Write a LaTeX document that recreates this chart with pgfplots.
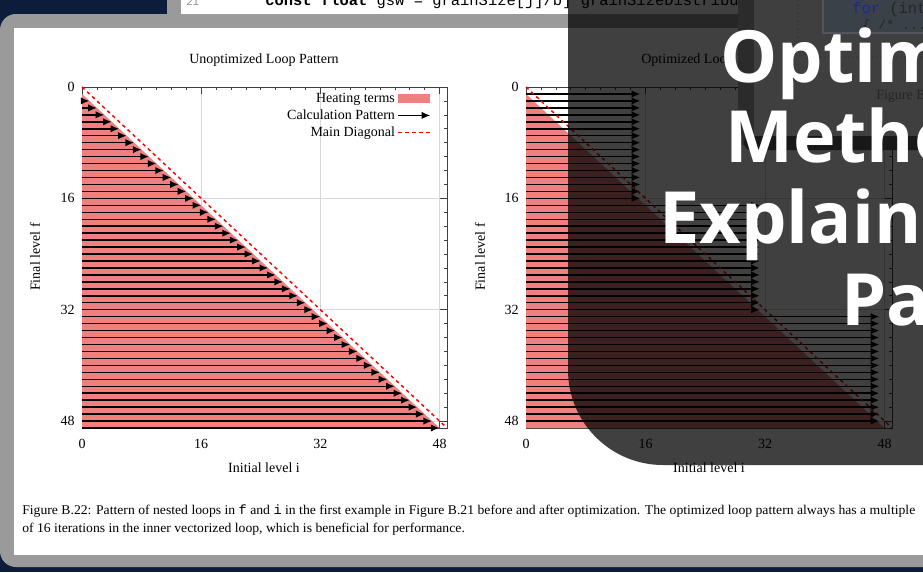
\documentclass[border=0pt]{standalone}
\usepackage{pgfplots}
\pgfplotsset{compat=1.18}
\usepackage{pgfplotstable}
\usetikzlibrary{arrows.meta}
\usepackage{fontspec}
\usepackage{graphicx}
\setmainfont{Liberation Serif}
\setmonofont{Liberation Mono}
\newfontfamily\bigsans{Open Sans}

\definecolor{heat}{RGB}{240,128,128}
\definecolor{navy}{RGB}{12,28,58}
\definecolor{framegray}{RGB}{154,154,154}
\definecolor{gridc}{RGB}{215,215,215}
\definecolor{codebox}{RGB}{58,65,72}
\definecolor{codeboxedge}{RGB}{80,86,92}
\definecolor{codeblue}{RGB}{30,40,150}
\definecolor{bandc}{RGB}{43,43,43}
\definecolor{bandd}{RGB}{24,24,24}
\definecolor{winc}{RGB}{63,63,63}

\pgfplotstableread{
x y u v
0 2 1 0
0 3 2 0
0 4 3 0
0 5 4 0
0 6 5 0
0 7 6 0
0 8 7 0
0 9 8 0
0 10 9 0
0 11 10 0
0 12 11 0
0 13 12 0
0 14 13 0
0 15 14 0
0 16 15 0
0 17 16 0
0 18 17 0
0 19 18 0
0 20 19 0
0 21 20 0
0 22 21 0
0 23 22 0
0 24 23 0
0 25 24 0
0 26 25 0
0 27 26 0
0 28 27 0
0 29 28 0
0 30 29 0
0 31 30 0
0 32 31 0
0 33 32 0
0 34 33 0
0 35 34 0
0 36 35 0
0 37 36 0
0 38 37 0
0 39 38 0
0 40 39 0
0 41 40 0
0 42 41 0
0 43 42 0
0 44 43 0
0 45 44 0
0 46 45 0
0 47 46 0
0 48 47 0
0 49 48 0
}\leftarrows

\pgfplotstableread{
x y u v
0 1 15.3 0
0 2 15.3 0
0 3 15.3 0
0 4 15.3 0
0 5 15.3 0
0 6 15.3 0
0 7 15.3 0
0 8 15.3 0
0 9 15.3 0
0 10 15.3 0
0 11 15.3 0
0 12 15.3 0
0 13 15.3 0
0 14 15.3 0
0 15 15.3 0
0 16 15.3 0
0 17 31.3 0
0 18 31.3 0
0 19 31.3 0
0 20 31.3 0
0 21 31.3 0
0 22 31.3 0
0 23 31.3 0
0 24 31.3 0
0 25 31.3 0
0 26 31.3 0
0 27 31.3 0
0 28 31.3 0
0 29 31.3 0
0 30 31.3 0
0 31 31.3 0
0 32 31.3 0
0 33 47.3 0
0 34 47.3 0
0 35 47.3 0
0 36 47.3 0
0 37 47.3 0
0 38 47.3 0
0 39 47.3 0
0 40 47.3 0
0 41 47.3 0
0 42 47.3 0
0 43 47.3 0
0 44 47.3 0
0 45 47.3 0
0 46 47.3 0
0 47 47.3 0
0 48 47.3 0
}\rightarrows

\pgfplotsset{
  loopaxis/.style={
    scale only axis, height=255.75pt,
    xmin=0, xmax=49, ymin=0, ymax=49, y dir=reverse,
    xtick={0,16,32,48}, ytick={0,16,32,48},
    minor tick num=7,
    tick align=inside,
    major tick length=5pt, minor tick length=2.5pt,
    grid=major, major grid style={draw=gridc, line width=0.5pt},
    axis line style={draw=black!75, line width=0.6pt},
    tick style={draw=black!75, line width=0.5pt},
    ticklabel style={font=\fontsize{10.5}{12}\selectfont},
    xticklabel style={yshift=-5pt},
    yticklabel style={xshift=-2pt},
    /pgf/number format/assume math mode=true,
    clip=false,
    legend style={draw=none, fill=none, at={(0.968,0.999)}, anchor=north east,
      font=\fontsize{10.5}{12}\selectfont, row sep=0pt},
    legend cell align=right,
    legend plot pos=right,
  },
  heatstyle/.style={fill=heat, draw=none,
    legend image code/.code={\fill[heat] (0pt,-3.4pt) rectangle (24pt,3.4pt);}},
  arrowstyle/.style={black, line width=1.1pt, -{Latex[length=6.5pt,width=5.5pt]},
    quiver={u=\thisrow{u}, v=\thisrow{v}},
    legend image code/.code={\draw[black,line width=1.1pt,-{Latex[length=6.5pt,width=5.5pt]}] (0pt,0pt) -- (24pt,0pt);}},
  diagstyle/.style={red, line width=1.1pt, dash pattern=on 2.6pt off 2.6pt,
    legend image code/.code={\draw[red,line width=1.1pt,dash pattern=on 2.6pt off 2.6pt] (0pt,0pt) -- (24pt,0pt);}},
}

\begin{document}
\begin{tikzpicture}
% ---------- background ----------
\begin{scope}[x=0.75pt,y=0.75pt]
  \fill[navy] (0,0) rectangle (923,-572);
  \fill[framegray] (167,0) rectangle (181,-14);
  \fill[white] (181,0) rectangle (738,-14);
  \begin{scope}
    \clip (181,0) rectangle (738,-14);
    \node[anchor=base west, inner sep=0, text=black!45] at (186,-5) {\ttfamily\fontsize{8}{9}\selectfont 21};
    \node[anchor=base west, inner sep=0] at (265,-5) {\ttfamily\fontsize{11.6}{12}\selectfont \textbf{const float} gsw = grainSize[j]/b]*grainSizeDistribut};
  \end{scope}
  \fill[framegray, rounded corners=12pt] (0,-14) rectangle (950,-567);
  \fill[white] (14,-28) rectangle (940,-555);
\end{scope}

% ---------- left axis ----------
\begin{axis}[loopaxis, width=273.75pt, at={(61.5pt,-321pt)}, anchor=south west]
  \addplot[heatstyle] coordinates {(0,1) (48,49) (0,49) (0,1)};
  \addlegendentry{Heating terms}
  \addplot[arrowstyle] table[x=x,y=y] {\leftarrows};
  \addlegendentry{Calculation Pattern}
  \addplot[diagstyle] coordinates {(0,0) (49,49)};
  \addlegendentry{Main Diagonal}
\end{axis}

% ---------- right axis ----------
\begin{axis}[loopaxis, width=274.5pt, at={(394.5pt,-321pt)}, anchor=south west]
  \addplot[heatstyle] coordinates {(0,1) (48,49) (0,49) (0,1)};
  \addlegendentry{Heating terms}
  \addplot[arrowstyle] table[x=x,y=y] {\rightarrows};
  \addlegendentry{Calculation Pattern}
  \addplot[diagstyle] coordinates {(0,0) (49,49)};
  \addlegendentry{Main Diagonal}
\end{axis}

\begin{scope}[x=0.75pt,y=0.75pt]
  % titles and labels
  \node[inner sep=0] at (264,-60) {\fontsize{10.5}{12}\selectfont Unoptimized Loop Pattern};
  \node[inner sep=0] at (709,-60) {\fontsize{10.5}{12}\selectfont Optimized Loop Pattern};
  \node[inner sep=0, rotate=90] at (35,-257) {\fontsize{10.5}{12}\selectfont Final level f};
  \node[inner sep=0, rotate=90] at (480,-257) {\fontsize{10.5}{12}\selectfont Final level f};
  \node[inner sep=0] at (264,-468) {\fontsize{10.5}{12}\selectfont Initial level i};
  \node[inner sep=0] at (709,-468) {\fontsize{10.5}{12}\selectfont Initial level i};
  % caption
  \node[anchor=base west, inner sep=0] at (22,-514) {\resizebox{669.75pt}{\height}{\fontsize{10}{13.5}\selectfont\begin{tabular}[t]{@{}l@{}}Figure B.22: Pattern of nested loops in \texttt{f} and \texttt{i} in the first example in Figure B.21 before and after optimization. The optimized loop pattern always has a multiple\\ of 16 iterations in the inner vectorized loop, which is beneficial for performance.\end{tabular}}};

  % ---------- dark overlay ----------
  \fill[black, opacity=0.75] (568,5) -- (568,-370) arc[start angle=180, end angle=270, radius=71.25pt] -- (950,-465) -- (950,5) -- cycle;
  \fill[winc] (754,5) rectangle (960,-140);
  \fill[bandc] (738,5) rectangle (754,-145);
  \fill[bandd, rounded corners=5pt] (744,-136) rectangle (960,-150);
  \filldraw[fill=codebox, draw=codeboxedge, line width=0.8pt] (823,5) rectangle (960,-33);
  \node[anchor=base west, inner sep=0] at (852,-13) {\ttfamily\fontsize{11.6}{12}\selectfont \textcolor{codeblue}{for} \textcolor{black!85}{(int}};
  \node[anchor=base west, inner sep=0] at (862,-29) {\ttfamily\fontsize{10}{12}\selectfont \textcolor{black!85}{\{ /* ...}};
  \draw[black!80, line width=1pt, dotted] (798,0) -- (798,-38) .. controls (798,-52) and (805,-57) .. (818,-57) -- (940,-57);
  \node[anchor=base west, inner sep=0, text=black!85] at (876,-99) {\fontsize{10.5}{12}\selectfont Figure B};

  % ---------- big title text ----------
  \node[anchor=base west, inner sep=0, text=white] at (720,-82) {\bigsans\bfseries\fontsize{54}{58}\selectfont Optim};
  \node[anchor=base west, inner sep=0, text=white] at (725,-162) {\bigsans\bfseries\fontsize{54}{58}\selectfont Metho};
  \node[anchor=base west, inner sep=0, text=white] at (659,-243) {\bigsans\bfseries\fontsize{54}{58}\selectfont Explain};
  \node[anchor=base west, inner sep=0, text=white] at (841,-325) {\bigsans\bfseries\fontsize{54}{58}\selectfont Pa};
\end{scope}

\pgfresetboundingbox
\useasboundingbox (0pt,0pt) rectangle (692.25pt,-429pt);
\end{tikzpicture}
\end{document}
